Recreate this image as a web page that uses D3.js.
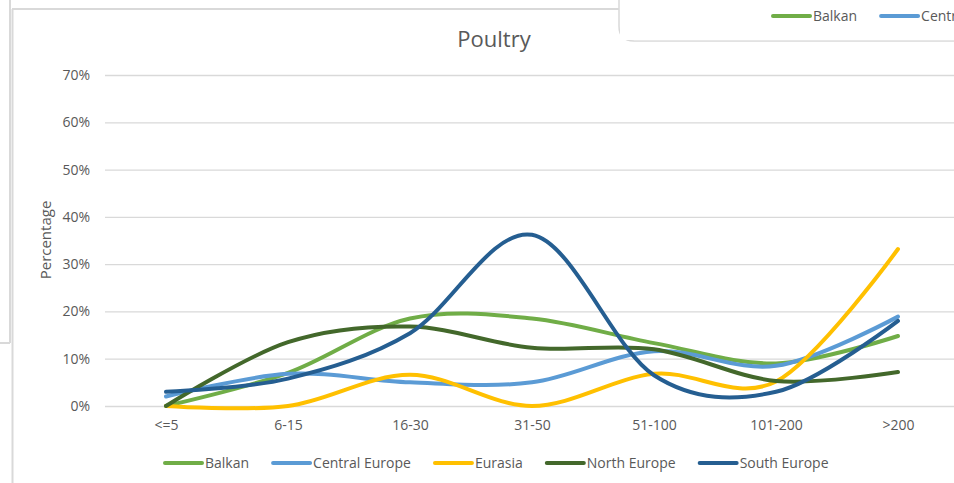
<!DOCTYPE html>
<html>
<head>
<meta charset="utf-8">
<script src="https://cdn.jsdelivr.net/npm/d3@7"></script>
<style>
  html, body { margin: 0; padding: 0; background: #ffffff; }
  svg { display: block; }
  text { font-family: "Open Sans", "Noto Sans", sans-serif; fill: #595959; }
</style>
</head>
<body>
<svg id="chart" width="954" height="483"></svg>
<script>
// ---- data ----
const categories = ["<=5", "6-15", "16-30", "31-50", "51-100", "101-200", ">200"];
const seriesNames = ["Balkan", "Central Europe", "Eurasia", "North Europe", "South Europe"];
const balkan = [0.0, 7.0, 18.5, 18.5, 13.3, 9.0, 14.8];
const centralEurope = [2.0, 6.8, 5.0, 5.0, 11.6, 8.5, 18.9];
const eurasia = [0.0, 0.0, 6.6, 0.0, 6.8, 5.2, 33.2];
const northEurope = [0.0, 13.5, 16.8, 12.3, 12.0, 5.3, 7.2];
const southEurope = [3.0, 5.8, 15.4, 36.2, 6.5, 3.0, 18.0];
const yTicks = [0, 10, 20, 30, 40, 50, 60, 70];
const seriesColors = ["#70AD47", "#5B9BD5", "#FFC000", "#43682B", "#255E91"];

const seriesValues = [balkan, centralEurope, eurasia, northEurope, southEurope];
const series = seriesNames.map((name, i) => ({ name, color: seriesColors[i], values: seriesValues[i] }));

// ---- layout ----
const svg = d3.select("#chart");
const W = 954, H = 483;
const plot = { left: 105, right: 959, top: 75, bottom: 406 };

svg.append("rect").attr("width", W).attr("height", H).attr("fill", "#ffffff");

// background window frame fragments
const frame = svg.append("g").attr("stroke", "#d9d9d9").attr("stroke-width", 2).attr("fill", "none");
frame.append("line").attr("x1", 10).attr("y1", 0).attr("x2", 10).attr("y2", 343);
frame.append("line").attr("x1", 0).attr("y1", 343).attr("x2", 10).attr("y2", 343);
frame.append("line").attr("x1", 12.5).attr("y1", 9).attr("x2", 12.5).attr("y2", H);
frame.append("line").attr("x1", 12).attr("y1", 9).attr("x2", 620).attr("y2", 9);

// scales
const x = d3.scalePoint().domain(categories).range([plot.left, plot.right]).padding(0.5);
const y = d3.scaleLinear().domain([0, 70]).range([plot.bottom, plot.top]);

// gridlines via axis
const grid = svg.append("g")
  .attr("transform", `translate(${plot.left},0)`)
  .call(d3.axisLeft(y).tickValues(yTicks).tickSize(-(plot.right - plot.left)).tickFormat(""));
grid.select(".domain").remove();
grid.selectAll(".tick line").attr("stroke", "#d9d9d9").attr("stroke-width", 1.3);

// y tick labels
const yAxis = svg.append("g")
  .attr("transform", `translate(90,0)`)
  .call(d3.axisLeft(y).tickValues(yTicks).tickSize(0).tickPadding(0).tickFormat(d => d + "%"));
yAxis.select(".domain").remove();
yAxis.selectAll("text")
  .attr("font-size", 14)
  .style("font-family", '"Open Sans", sans-serif')
  .attr("fill", "#595959");

// x tick labels
const xAxis = svg.append("g")
  .attr("transform", `translate(0,${plot.bottom})`)
  .call(d3.axisBottom(x).tickSize(0).tickPadding(14));
xAxis.select(".domain").remove();
xAxis.selectAll("text")
  .attr("font-size", 14)
  .style("font-family", '"Open Sans", sans-serif')
  .attr("fill", "#595959");

// axis title
svg.append("text")
  .attr("transform", "translate(51,240) rotate(-90)")
  .attr("text-anchor", "middle")
  .attr("font-size", 15)
  .text("Percentage");

// chart title
svg.append("text")
  .attr("x", 494).attr("y", 47)
  .attr("text-anchor", "middle")
  .attr("font-size", 22)
  .attr("font-weight", 400)
  .text("Poultry");

// lines
const line = d3.line()
  .x((d, i) => x(categories[i]))
  .y(d => y(d))
  .curve(d3.curveCardinal.tension(0));

svg.append("g").selectAll("path")
  .data(series)
  .join("path")
  .attr("d", d => line(d.values))
  .attr("fill", "none")
  .attr("stroke", d => d.color)
  .attr("stroke-width", 4)
  .attr("stroke-linecap", "round")
  .attr("stroke-linejoin", "round");

// legend builder
function buildLegend(g, items, startX, cy) {
  let cx = startX;
  items.forEach(s => {
    g.append("line")
      .attr("x1", cx).attr("x2", cx + 37)
      .attr("y1", cy).attr("y2", cy)
      .attr("stroke", s.color).attr("stroke-width", 4)
      .attr("stroke-linecap", "round");
    const t = g.append("text")
      .attr("x", cx + 40).attr("y", cy)
      .attr("dy", "0.35em")
      .attr("font-size", 14)
      .text(s.name);
    cx += 40 + t.node().getComputedTextLength() + 24;
  });
}

// bottom legend
const legend = svg.append("g");
buildLegend(legend, series, 165, 463);

// top-right overlapping box (another chart's legend, cut off by the window edge)
const box = svg.append("g");
box.append("path")
  .attr("d", `M619,-5 L619,26 Q619,41 634,41 L970,41`)
  .attr("fill", "#ffffff")
  .attr("stroke", "#d9d9d9")
  .attr("stroke-width", 1.5);
box.append("rect").attr("x", 620).attr("y", 0).attr("width", 340).attr("height", 40).attr("fill", "#ffffff");
box.append("rect").attr("x", 634).attr("y", 26).attr("width", 340).attr("height", 14.2).attr("fill", "#ffffff");
const topLegend = box.append("g");
buildLegend(topLegend, series.slice(0, 2), 773, 16);
</script>
</body>
</html>
